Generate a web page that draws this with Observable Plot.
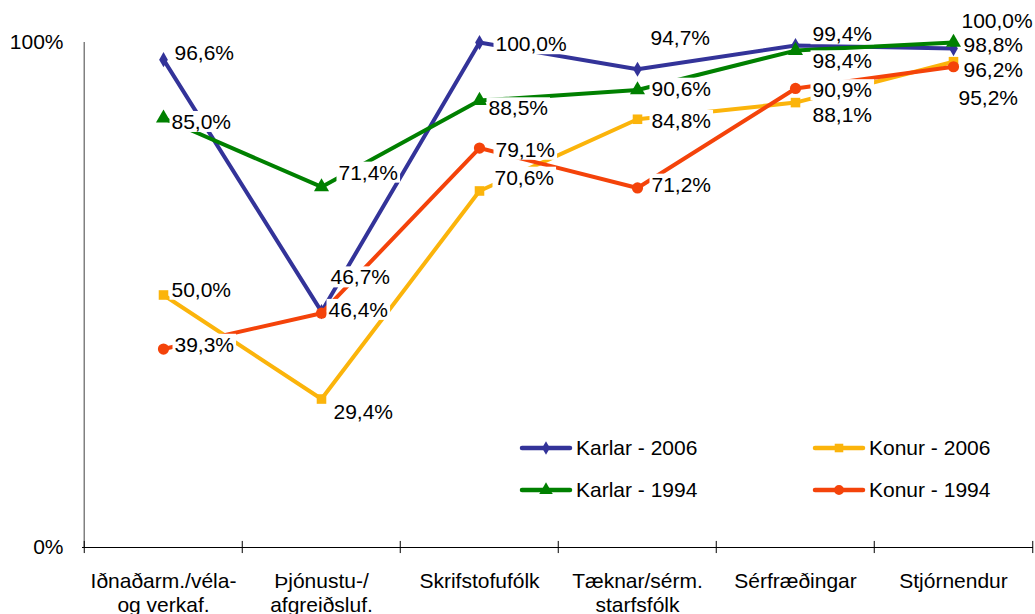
<!DOCTYPE html>
<html>
<head>
<meta charset="utf-8">
<script src="https://cdn.jsdelivr.net/npm/d3@7"></script>
<script src="https://cdn.jsdelivr.net/npm/@observablehq/plot@0.6"></script>
<style>
  html, body { margin: 0; padding: 0; background: #fff; }
  #wrap { position: relative; width: 1035px; height: 614px; overflow: hidden; font-family: "Liberation Sans", Arial, sans-serif; }
  #legend { position: absolute; left: 0; top: 0; pointer-events: none; }
</style>
</head>
<body>
<div id="wrap"></div>
<script>
// ---- data ----
const categories = [
  "Iðnaðarm./véla-\nog verkaf.",
  "Þjónustu-/\nafgreiðsluf.",
  "Skrifstofufólk",
  "Tæknar/sérm.\nstarfsfólk",
  "Sérfræðingar",
  "Stjórnendur"
];
const seriesNames = ["Karlar - 2006", "Konur - 2006", "Karlar - 1994", "Konur - 1994"];
const karlar2006 = [96.6, 46.7, 100.0, 94.7, 99.4, 98.8];
const konur2006  = [50.0, 29.4, 70.6, 84.8, 88.1, 96.2];
const karlar1994 = [85.0, 71.4, 88.5, 90.6, 98.4, 100.0];
const konur1994  = [39.3, 46.4, 79.1, 71.2, 90.9, 95.2];
const yTicks = [0, 100];
const yTickLabels = ["0%", "100%"];

// ---- label offsets (pixels, relative to each point) ----
const labelDx = [
  [11, 9, 16, 13, 17, 10],
  [8, 12, 15, 14, 17, 10],
  [8, 17, 9, 14, 17, 8],
  [11, 7, 16, 14, 17, 5]
];
const labelDy = [
  [-6, -34, 2, -31, -11, -3],
  [-5, 13, -13, 2, 13, 9],
  [4, -14, 8, -1, 11, -21],
  [-4, -3, 2, -3, 2, 32]
];

// ---- styles ----
const seriesColors = ["#333399", "#FBB40B", "#008000", "#F4430A"];
const seriesSymbols = ["diamond", "square", "triangle", "circle"];
const seriesR = [4.6, 5.4, 5.6, 5.6];
const FONT = "'Liberation Sans', Arial, sans-serif";
const W = 1035, H = 614, ML = 82, MR = 2, MT = 42, MB = 67;
const step = (W - ML - MR) / categories.length;

const seriesValues = [karlar2006, konur2006, karlar1994, konur1994];
const rows = seriesValues.flatMap((vals, s) =>
  vals.map((v, i) => ({series: seriesNames[s], s, i, cat: categories[i], value: v}))
);
const fmt = v => v.toFixed(1).replace(".", ",") + "%";

const seriesMarks = seriesNames.flatMap((name, s) => {
  const data = rows.filter(d => d.s === s);
  return [
    Plot.line(data, {x: "cat", y: "value", stroke: seriesColors[s], strokeWidth: 4, strokeLinejoin: "round"}),
    Plot.dot(data, {x: "cat", y: "value", symbol: seriesSymbols[s], r: seriesR[s], fill: seriesColors[s], stroke: "none"})
  ];
});

const labelMarks = rows.map(d =>
  Plot.text([d], {
    x: "cat", y: "value", text: r => fmt(r.value),
    dx: labelDx[d.s][d.i], dy: labelDy[d.s][d.i],
    textAnchor: "start", lineAnchor: "middle",
    fontSize: 21, fill: "#000", fontFamily: FONT
  })
);

const chart = Plot.plot({
  width: W,
  height: H,
  marginLeft: ML,
  marginRight: MR,
  marginTop: MT,
  marginBottom: MB,
  style: {fontSize: "21px", fontFamily: FONT, background: "#fff", color: "#000", overflow: "visible"},
  x: {type: "point", domain: categories, padding: 0.5, axis: null},
  y: {domain: [0, 100], ticks: yTicks, tickFormat: d => yTickLabels[yTicks.indexOf(d)], tickSize: 0, tickPadding: 19, label: null},
  marks: [
    // y axis line (gray)
    Plot.ruleX([categories[0]], {y1: 0, y2: 100, dx: -step / 2, stroke: "#808080", strokeWidth: 1.5}),
    // x axis line
    Plot.ruleY([0], {stroke: "#000", strokeWidth: 1.2}),
    // category boundary ticks
    Plot.ruleX(categories, {y1: -1.2, y2: 1.2, dx: -step / 2, stroke: "#000", strokeWidth: 1}),
    Plot.ruleX([categories[categories.length - 1]], {y1: -1.2, y2: 1.2, dx: step / 2, stroke: "#000", strokeWidth: 1}),
    // category labels
    Plot.text(categories, {x: d => d, y: yTicks[0], text: d => d, dy: 23, lineAnchor: "top", lineHeight: 1.15, fontSize: 21, fill: "#000", fontFamily: FONT}),
    ...seriesMarks,
    ...labelMarks
  ]
});

const wrap = document.getElementById("wrap");
wrap.appendChild(chart);

// white boxes behind the data labels
chart.querySelectorAll("text").forEach(t => {
  if (/^\d+,\d%$/.test(t.textContent.trim())) {
    const b = t.getBBox();
    const rect = document.createElementNS("http://www.w3.org/2000/svg", "rect");
    rect.setAttribute("x", b.x - 2);
    rect.setAttribute("y", b.y + 1);
    rect.setAttribute("width", b.width + 4);
    rect.setAttribute("height", b.height - 2);
    rect.setAttribute("fill", "#fff");
    rect.setAttribute("stroke", "none");
    if (t.getAttribute("transform")) rect.setAttribute("transform", t.getAttribute("transform"));
    t.parentNode.insertBefore(rect, t);
  }
});

// legend inside the plot area
const legendPos = [[520, 448], [813, 448], [520, 490], [813, 490]];
const lg = d3.select(wrap).append("svg")
  .attr("id", "legend").attr("width", W).attr("height", H);
seriesNames.forEach((name, s) => {
  const [lx, ly] = legendPos[s];
  const g = lg.append("g").attr("transform", `translate(${lx},${ly})`);
  g.append("line").attr("x1", 2).attr("x2", 50).attr("y1", 0).attr("y2", 0)
    .attr("stroke", seriesColors[s]).attr("stroke-width", 4.5).attr("stroke-linecap", "round");
  const sym = {diamond: d3.symbolDiamond, square: d3.symbolSquare, triangle: d3.symbolTriangle, circle: d3.symbolCircle}[seriesSymbols[s]];
  g.append("path").attr("transform", "translate(26,0)")
    .attr("d", d3.symbol(sym, Math.PI * seriesR[s] * seriesR[s] * 0.8)())
    .attr("fill", seriesColors[s]);
  g.append("text").attr("x", 56).attr("y", 0).attr("dy", "0.35em")
    .attr("font-size", 21).attr("font-family", FONT).attr("fill", "#000").text(name);
});
</script>
</body>
</html>
